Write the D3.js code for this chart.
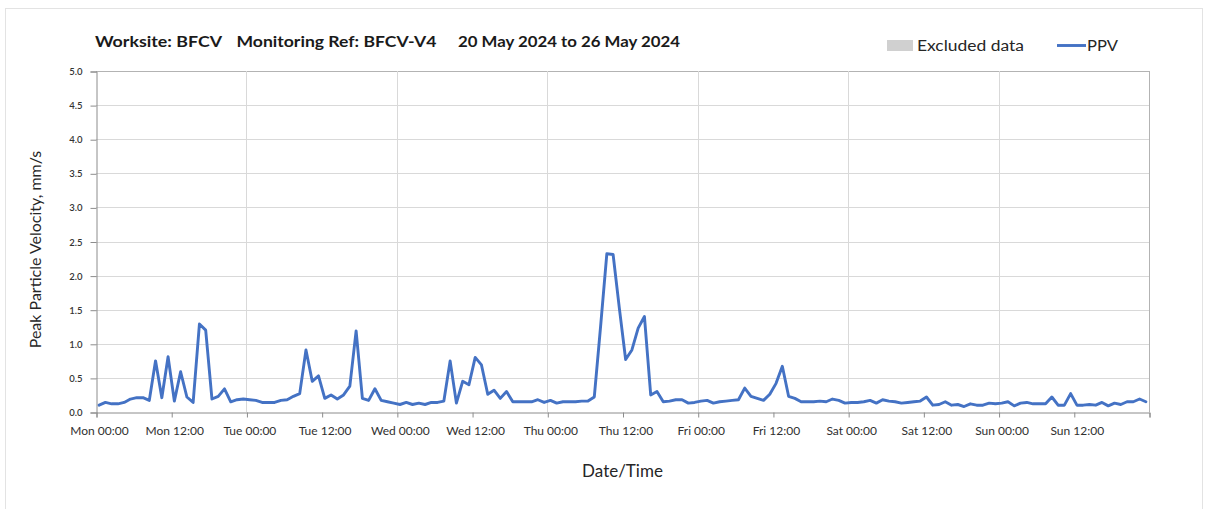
<!DOCTYPE html>
<html>
<head>
<meta charset="utf-8">
<script src="https://cdn.jsdelivr.net/npm/d3@7"></script>
<style>
  html, body { margin: 0; padding: 0; background: #fff; }
  svg { display: block; font-family: Lato, "Open Sans", sans-serif; }
</style>
</head>
<body>
<svg id="chart" width="1208" height="509"></svg>
<script>
// ---- Data (hourly PPV, mm/s; each value plotted at hh:30) ----
const titleParts = ["Worksite: BFCV", "Monitoring Ref: BFCV-V4", "20 May 2024 to 26 May 2024"];
const legendLabels = ["Excluded data", "PPV"];
const yTickValues = [0, 0.5, 1.0, 1.5, 2.0, 2.5, 3.0, 3.5, 4.0, 4.5, 5.0];
const xTickLabels = ["Mon 00:00","Mon 12:00","Tue 00:00","Tue 12:00","Wed 00:00","Wed 12:00",
  "Thu 00:00","Thu 12:00","Fri 00:00","Fri 12:00","Sat 00:00","Sat 12:00","Sun 00:00","Sun 12:00",""];

const monValues = [0.10,0.14,0.12,0.12,0.14,0.19,0.21,0.21,0.17,0.75,0.21,0.81,
                   0.16,0.59,0.22,0.14,1.29,1.20,0.19,0.23,0.34,0.15,0.18,0.19];
const tueValues = [0.18,0.17,0.14,0.14,0.14,0.17,0.18,0.23,0.27,0.91,0.45,0.53,
                   0.20,0.25,0.19,0.25,0.38,1.19,0.20,0.17,0.34,0.17,0.15,0.13];
const wedValues = [0.11,0.14,0.11,0.13,0.11,0.14,0.14,0.16,0.75,0.13,0.45,0.40,
                   0.80,0.69,0.26,0.32,0.20,0.30,0.15,0.15,0.15,0.15,0.18,0.14];
const thuValues = [0.17,0.13,0.15,0.15,0.15,0.16,0.16,0.22,1.25,2.32,2.31,1.52,
                   0.77,0.91,1.23,1.40,0.25,0.30,0.15,0.16,0.18,0.18,0.13,0.14];
const friValues = [0.16,0.17,0.13,0.15,0.16,0.17,0.18,0.35,0.23,0.20,0.17,0.26,
                   0.42,0.67,0.23,0.20,0.15,0.15,0.15,0.16,0.15,0.19,0.17,0.13];
const satValues = [0.14,0.14,0.15,0.17,0.13,0.18,0.16,0.15,0.13,0.14,0.15,0.16,
                   0.22,0.10,0.11,0.15,0.10,0.11,0.08,0.12,0.10,0.10,0.13,0.12];
const sunValues = [0.13,0.15,0.09,0.13,0.14,0.12,0.12,0.12,0.22,0.10,0.10,0.27,
                   0.10,0.10,0.11,0.10,0.14,0.09,0.13,0.11,0.15,0.15,0.19,0.15];

const ppv = [].concat(monValues, tueValues, wedValues, thuValues, friValues, satValues, sunValues);
const startTime = new Date(2024, 4, 20, 0, 0);
const endTime = new Date(2024, 4, 27, 0, 0);
const firstSample = new Date(2024, 4, 20, 0, 30);
const data = ppv.map((v, i) => ({ t: d3.timeHour.offset(firstSample, i), v }));

// ---- Layout ----
const svg = d3.select("#chart");
const pLeft = 96, pRight = 1149, pTop = 71, pBottom = 412;

svg.append("rect").attr("x", 5.5).attr("y", 8.5).attr("width", 1197).attr("height", 520)
  .attr("fill", "#fff").attr("stroke", "#e3e3e3");

const x = d3.scaleTime().domain([startTime, endTime]).range([pLeft, pRight]);
const y = d3.scaleLinear().domain([0, 5]).range([pBottom, pTop]);

const tickTimes = d3.range(0, 15).map(i => d3.timeHour.offset(startTime, i * 12));
const dayTimes = d3.range(1, 8).map(i => d3.timeDay.offset(startTime, i));

// horizontal gridlines
svg.append("g").selectAll("line").data(yTickValues.filter(v => v > 0)).join("line")
  .attr("x1", pLeft).attr("x2", pRight)
  .attr("y1", d => Math.round(y(d)) + 0.5).attr("y2", d => Math.round(y(d)) + 0.5)
  .attr("stroke", d => d === 5 ? "#b3b3b3" : "#d9d9d9").attr("stroke-width", 1);

// vertical gridlines at day boundaries
svg.append("g").selectAll("line").data(dayTimes).join("line")
  .attr("x1", d => Math.round(x(d)) + 0.5).attr("x2", d => Math.round(x(d)) + 0.5)
  .attr("y1", pTop).attr("y2", pBottom)
  .attr("stroke", (d, i) => i === dayTimes.length - 1 ? "#b3b3b3" : "#d9d9d9").attr("stroke-width", 1);

// y axis
const yAxis = svg.append("g").attr("transform", `translate(${pLeft + 0.5},0.5)`)
  .call(d3.axisLeft(y).tickValues(yTickValues).tickFormat(d3.format(".1f")).tickSize(6).tickPadding(8));
yAxis.select(".domain").attr("stroke", "#8c8c8c");
yAxis.selectAll(".tick line").attr("stroke", "#8c8c8c");
yAxis.selectAll("text").attr("font-size", 9.5).attr("fill", "#333").attr("font-weight", 600)
  .attr("font-family", "Lato, sans-serif");

// x axis
const xAxis = svg.append("g").attr("transform", `translate(0.5,${pBottom + 0.5})`)
  .call(d3.axisBottom(x).tickValues(tickTimes).tickFormat((d, i) => xTickLabels[i]).tickSize(5).tickPadding(9));
xAxis.select(".domain").attr("stroke", "#8c8c8c");
xAxis.selectAll(".tick line").attr("stroke", "#8c8c8c");
xAxis.selectAll("text").attr("font-size", 12).attr("fill", "#303030").attr("dx", 2.5)
  .attr("font-family", "Lato, sans-serif");

// PPV line
const line = d3.line().x(d => x(d.t)).y(d => y(d.v));
svg.append("path").datum(data).attr("d", line)
  .attr("fill", "none").attr("stroke", "#4472C4").attr("stroke-width", 2.9)
  .attr("stroke-linejoin", "round").attr("stroke-linecap", "round");

// Title
const titleX = [95, 236.5, 458];
const titleW = [127, 200, 222];
svg.append("g").selectAll("text").data(titleParts).join("text")
  .attr("x", (d, i) => titleX[i]).attr("y", 46.5)
  .attr("textLength", (d, i) => titleW[i]).attr("lengthAdjust", "spacingAndGlyphs")
  .attr("font-size", 16).attr("font-weight", "bold").attr("fill", "#1a1a1a")
  .text(d => d);

// Legend
svg.append("rect").attr("x", 887).attr("y", 40).attr("width", 26).attr("height", 11).attr("fill", "#d0d0d0");
svg.append("text").attr("x", 917).attr("y", 51).attr("font-size", 15.5).attr("fill", "#262626")
  .attr("textLength", 107).attr("lengthAdjust", "spacingAndGlyphs").text(legendLabels[0]);
svg.append("line").attr("x1", 1057).attr("x2", 1086).attr("y1", 45.5).attr("y2", 45.5)
  .attr("stroke", "#4472C4").attr("stroke-width", 2.9);
svg.append("text").attr("x", 1087).attr("y", 51).attr("font-size", 15.5).attr("fill", "#262626")
  .attr("textLength", 31).attr("lengthAdjust", "spacingAndGlyphs").text(legendLabels[1]);

// Axis titles
svg.append("text").attr("transform", `translate(41,${(pTop + pBottom) / 2 + 8}) rotate(-90)`)
  .attr("text-anchor", "middle").attr("font-size", 16).attr("fill", "#262626")
  .text("Peak Particle Velocity, mm/s");
svg.append("text").attr("x", (pLeft + pRight) / 2).attr("y", 477)
  .attr("text-anchor", "middle").attr("font-size", 17).attr("fill", "#262626")
  .text("Date/Time");
</script>
</body>
</html>
